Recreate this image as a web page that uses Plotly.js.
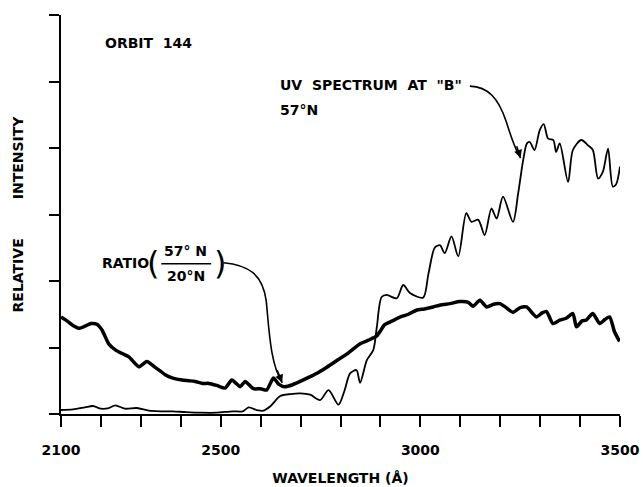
<!DOCTYPE html>
<html>
<head>
<meta charset="utf-8">
<script src="https://cdn.plot.ly/plotly-3.0.1.min.js"></script>
<style>html,body{margin:0;padding:0;background:#fff;}#chart{width:643px;height:487px;}</style>
</head>
<body>
<div id="chart"></div>
<script>
// Wavelength (Å) and relative intensity
const ratioWavelength = [2100,2115,2130,2145,2160,2175,2190,2203,2220,2237,2253,2270,2295,2315,2336,2350,2361,2380,2403,2420,2436,2455,2470,2490,2511,2528,2549,2561,2582,2600,2615,2632,2645,2660,2680,2699,2720,2740,2760,2780,2800,2820,2850,2870,2890,2900,2910,2930,2950,2970,2990,3010,3032,3050,3074,3099,3120,3132,3149,3166,3183,3199,3215,3232,3250,3266,3280,3291,3305,3316,3332,3349,3365,3382,3391,3405,3415,3432,3449,3462,3474,3486,3499];
const ratioValues = [1.46,1.40,1.33,1.29,1.32,1.36,1.35,1.26,1.05,0.96,0.91,0.86,0.71,0.79,0.70,0.64,0.59,0.54,0.51,0.50,0.49,0.46,0.46,0.43,0.39,0.51,0.41,0.49,0.38,0.38,0.36,0.54,0.45,0.41,0.44,0.49,0.55,0.61,0.68,0.76,0.84,0.92,1.06,1.11,1.17,1.25,1.34,1.40,1.46,1.50,1.56,1.58,1.61,1.64,1.66,1.69,1.68,1.62,1.71,1.61,1.65,1.66,1.60,1.53,1.60,1.61,1.52,1.46,1.52,1.54,1.36,1.41,1.44,1.51,1.31,1.40,1.41,1.51,1.36,1.42,1.46,1.24,1.09];

const uvWavelength = [2100,2130,2160,2180,2200,2220,2236,2260,2290,2320,2350,2380,2410,2450,2490,2530,2555,2570,2590,2607,2625,2649,2675,2700,2724,2749,2770,2795,2810,2824,2840,2849,2866,2882,2891,2903,2916,2941,2957,2974,3007,3020,3036,3049,3061,3078,3095,3115,3128,3145,3161,3178,3191,3207,3232,3245,3257,3267,3274,3286,3299,3309,3320,3333,3340,3349,3370,3382,3403,3420,3432,3445,3457,3470,3482,3490,3500];
const uvValues = [0.06,0.07,0.10,0.12,0.08,0.09,0.13,0.08,0.09,0.05,0.04,0.04,0.03,0.02,0.02,0.04,0.04,0.10,0.06,0.05,0.12,0.27,0.30,0.31,0.29,0.21,0.36,0.14,0.35,0.61,0.66,0.47,0.81,0.96,1.31,1.76,1.79,1.74,1.94,1.82,1.75,2.10,2.50,2.54,2.42,2.67,2.37,3.02,2.89,2.92,2.69,3.09,2.94,3.27,2.89,3.32,3.80,4.07,4.09,3.97,4.27,4.36,4.14,4.12,3.94,4.07,3.49,3.97,4.12,4.04,3.97,3.54,3.64,3.99,3.42,3.45,3.72];

const tickValues = [2100,2200,2300,2400,2500,2600,2700,2800,2900,3000,3100,3200,3300,3400,3500];
const tickLabels = ['2100','','','','2500','','','','','3000','','','','','3500'];

const FONT = 'DejaVu Sans, Liberation Sans, sans-serif';
const NB = '\u00A0';

const traces = [
  {x: uvWavelength, y: uvValues, mode: 'lines', name: 'UV spectrum at "B" 57°N',
   line: {color: '#000', width: 1.8, shape: 'spline', smoothing: 0.8}},
  {x: ratioWavelength, y: ratioValues, mode: 'lines', name: 'Ratio 57°N / 20°N',
   line: {color: '#000', width: 3.5, shape: 'spline', smoothing: 0.6}}
];

const txt = (text, x, y, xanchor, size, weight) => ({text, x, y, xref: 'x', yref: 'y', xanchor: xanchor || 'left', yanchor: 'middle', showarrow: false, font: {family: FONT, size: size || 13, color: '#000', weight: weight || 'bold'}});

const layout = {
  width: 643, height: 487,
  margin: {l: 60.5, r: 22.5, t: 15, b: 73},
  paper_bgcolor: '#fff', plot_bgcolor: '#fff',
  showlegend: false,
  font: {family: FONT, color: '#000', size: 13},
  xaxis: {range: [2100, 3500], tickmode: 'array', tickvals: tickValues, ticktext: tickLabels,
    ticks: 'outside', ticklen: 11, tickwidth: 2, tickcolor: '#000', ticklabelstandoff: 11,
    showline: true, linecolor: '#000', linewidth: 2, showgrid: false, zeroline: false,
    tickfont: {family: FONT, size: 14, color: '#000', weight: 'bold'},
    title: {text: 'WAVELENGTH (Å)', standoff: 16, font: {family: FONT, size: 14, color: '#000', weight: 'bold'}}},
  yaxis: {range: [0, 6], tickvals: [0,1,2,3,4,5,6], showticklabels: false,
    ticks: 'outside', ticklen: 10, tickwidth: 2, tickcolor: '#000',
    showline: true, linecolor: '#000', linewidth: 2, showgrid: false, zeroline: false,
    title: {text: 'RELATIVE' + NB.repeat(8) + 'INTENSITY', standoff: 22, font: {family: FONT, size: 14, color: '#000', weight: 'bold'}}},
  annotations: [
    txt('ORBIT' + NB + NB + '144', 2206, 5.58, 'left', 14),
    txt('UV' + NB + ' SPECTRUM' + NB + ' AT' + NB + ' "B"', 2644, 4.95, 'left', 14),
    txt('57°N', 2644, 4.57, 'left', 14),
    txt('RATIO', 2197, 2.27, 'left', 14),
    txt('(', 2331, 2.27, 'center', 32, 'normal'),
    txt('57° N', 2413, 2.45, 'center', 14),
    txt('20°N', 2413, 2.08, 'center', 14),
    txt(')', 2498, 2.27, 'center', 32, 'normal'),
    {x: 3251, y: 3.85, ax: 3240, ay: 4.05, xref: 'x', yref: 'y', axref: 'x', ayref: 'y', text: '', showarrow: true, arrowhead: 2, arrowsize: 1, arrowwidth: 1.6, arrowcolor: '#000'},
    {x: 2654, y: 0.47, ax: 2640, ay: 0.68, xref: 'x', yref: 'y', axref: 'x', ayref: 'y', text: '', showarrow: true, arrowhead: 2, arrowsize: 1, arrowwidth: 1.6, arrowcolor: '#000'}
  ],
  shapes: [
    {type: 'line', xref: 'x', yref: 'y', x0: 2351, x1: 2476, y0: 2.26, y1: 2.26, line: {color: '#000', width: 1.5}},
    {type: 'path', xref: 'x', yref: 'y', path: 'M 3124,4.93 C 3170,4.92 3195,4.75 3215,4.40 C 3228,4.15 3240,3.95 3251,3.85', line: {color: '#000', width: 1.6}},
    {type: 'path', xref: 'x', yref: 'y', path: 'M 2507,2.275 C 2570,2.24 2605,2.10 2614,1.70 C 2622,1.20 2625,0.75 2654,0.47', line: {color: '#000', width: 1.6}}
  ]
};

Plotly.newPlot('chart', traces, layout, {staticPlot: true, displayModeBar: false});
</script>
</body>
</html>
